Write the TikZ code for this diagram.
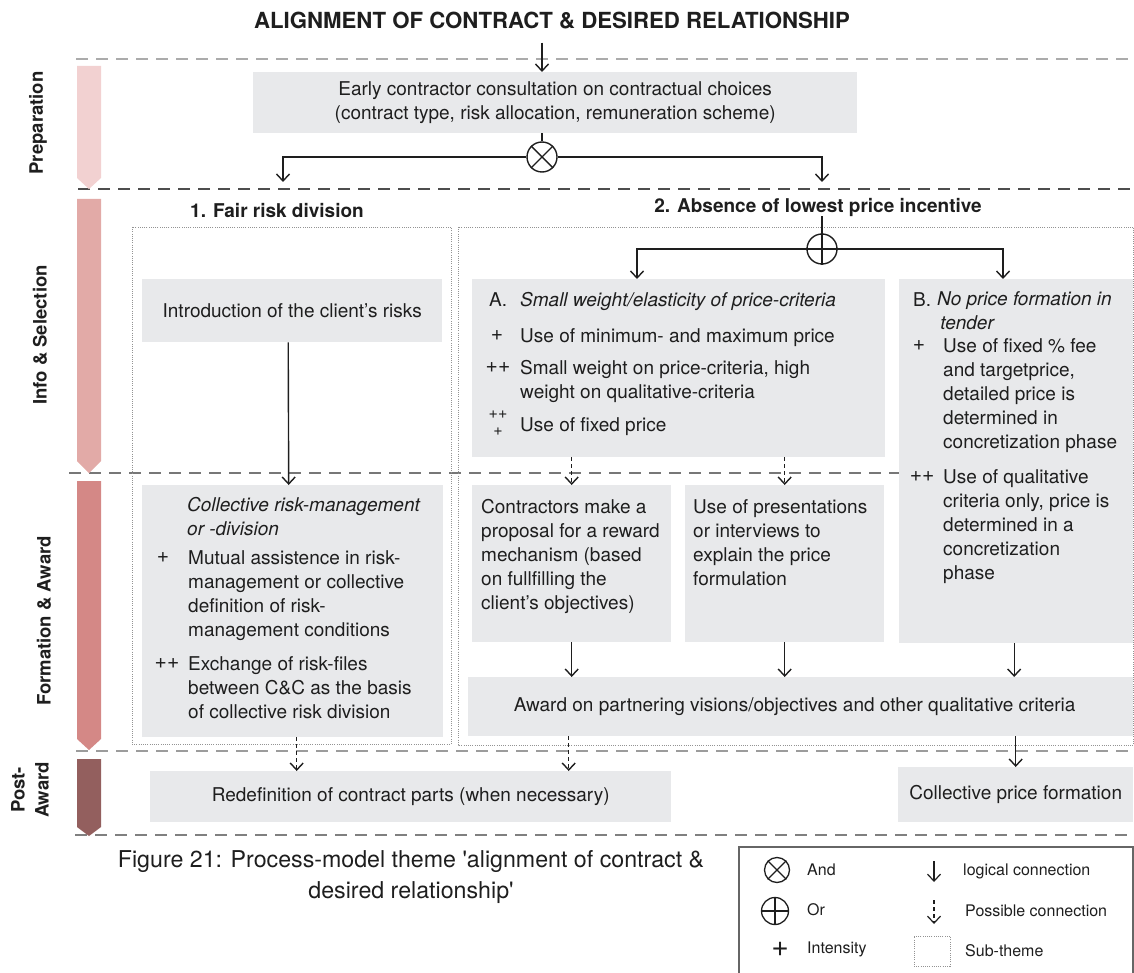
\documentclass[tikz,border=0pt]{standalone}
\usepackage{fontspec}
\setmainfont{TeX Gyre Heros}
\usetikzlibrary{arrows.meta}

\definecolor{boxfill}{HTML}{E8E9EB}
\definecolor{phaseA}{HTML}{F2D1D1}
\definecolor{phaseB}{HTML}{E2AAA7}
\definecolor{phaseC}{HTML}{D48886}
\definecolor{phaseD}{HTML}{935F5E}
\definecolor{ink}{HTML}{1E1E1E}
\definecolor{sepA}{HTML}{ABABAB}
\definecolor{sepB}{HTML}{4D4D4D}
\definecolor{sepC}{HTML}{777777}
\definecolor{sepD}{HTML}{9C9C9C}
\definecolor{sepE}{HTML}{808080}

\newcommand{\bodyfont}{\fontsize{19}{24}\selectfont}
\newcommand{\legfont}{\fontsize{16}{19}\selectfont}

\tikzset{
  card/.style={fill=boxfill, draw=none, inner sep=0pt, anchor=north west,
    align=center, font=\bodyfont, text=ink},
  txt/.style={inner sep=0pt, anchor=north west, align=left, font=\bodyfont, text=ink},
  intens/.style={inner sep=0pt, anchor=center, align=center,
    font=\fontsize{21}{14}\selectfont, text=ink},
  legtxt/.style={inner sep=0pt, anchor=west, font=\legfont, text=ink},
  head/.style={inner sep=0pt, font=\fontsize{19}{23}\selectfont\bfseries, text=ink},
  phaselabel/.style={inner sep=0pt, rotate=90, align=center,
    font=\fontsize{18.5}{24}\selectfont\bfseries, text=ink},
  logic/.style={line width=1.4pt, draw=ink, -{Straight Barb[length=7pt,width=13pt]}},
  maybe/.style={logic, dash pattern=on 4pt off 3pt},
  sepline/.style={line width=1.3pt, dash pattern=on 12pt off 8pt},
  subtheme/.style={draw=gray!85, line width=0.8pt, dash pattern=on 1pt off 1.2pt},
  gate/.style={circle, draw=ink, line width=1.4pt, minimum size=30pt, inner sep=0pt},
  gatecross/.style={line width=1.4pt, draw=ink},
}

% box given by its corners (x1,y1) and (x2,y2)
\newcommand{\card}[6]{%
  \node[card, minimum width={#4pt-#2pt}, minimum height={#5pt-#3pt}] (#1) at (#2,#3) {#6};}

\begin{document}
\begin{tikzpicture}[x=1pt,y=-1pt]
\useasboundingbox (0,0) rectangle (1134,973);

% phase separators
\draw[sepline, draw=sepA] (76,59) -- (1134,59);
\draw[sepline, draw=sepB] (78,189) -- (1134,189);
\draw[sepline, draw=sepC] (69,473) -- (1134,473);
\draw[sepline, draw=sepD] (76,751) -- (1134,751);
\draw[sepline, draw=sepE] (75,835) -- (1134,835);

% phase chevrons
\fill[phaseA] (77,66) -- (101,66) -- (101,178) -- (89,189) -- (77,178) -- cycle;
\fill[phaseB] (77,199) -- (101,199) -- (101,461) -- (89,473) -- (77,461) -- cycle;
\fill[phaseC] (77,481) -- (101,481) -- (101,739) -- (89,750) -- (77,739) -- cycle;
\fill[phaseD] (77,759) -- (101,759) -- (101,827) -- (89,836) -- (77,827) -- cycle;

\node[phaselabel] (lPrep) at (38,123) {Preparation};
\node[phaselabel] (lInfo) at (40,335) {Info \& Selection};
\node[phaselabel] (lForm) at (44,621) {Formation \& Award};
\node[phaselabel] (lPost) at (30,790) {Post-\\Award};

% title
\node[inner sep=0pt, font=\fontsize{22.2}{26}\selectfont\bfseries, text=ink]
  (title) at (552,21) {ALIGNMENT OF CONTRACT \& DESIRED RELATIONSHIP};

% sub-theme frames
\draw[subtheme] (132,227) rectangle (451,744);
\draw[subtheme] (458,227) rectangle (1133.5,745);

% boxes
\card{early}{253}{72}{857}{133}{Early contractor consultation on contractual choices\\(contract type, risk allocation, remuneration scheme)}
\card{intro}{142}{279}{442}{342}{Introduction of the client's risks}
\card{boxA}{472}{279}{885}{457}{}
\card{boxB}{899}{279}{1133}{643}{}
\card{coll}{142}{485}{443}{737}{}
\card{contr}{472}{485}{671}{642}{}
\card{pres}{685}{485}{884}{642}{}
\card{award}{468}{677}{1133}{736}{\hspace*{-12pt}Award on partnering visions/objectives and other qualitative criteria}
\card{redef}{150}{771}{671}{822}{Redefinition of contract parts (when necessary)}
\card{cpf}{898}{767}{1133}{822}{Collective price formation}

% headings of the sub-themes
\node[head] (h1) at (277,211) {1. Fair risk division};
\node[head] (h2) at (818,207) {2. Absence of lowest price incentive};

% box A
\node[txt] (aHead) at (489,289) {\strut A.};
\node[txt] (aHeadT) at (520,289) {\strut\textit{Small weight/elasticity of price-criteria}};
\node[intens] (aP1) at (497,336) {+};
\node[txt] (aT1) at (520,325) {\strut Use of minimum- and maximum price};
\node[intens] (aP2) at (498,368) {++};
\node[txt] (aT2) at (520,357) {\strut Small weight on price-criteria, high\\weight on qualitative-criteria};
\node[intens, font=\fontsize{16}{16}\selectfont] (aP3a) at (498,415) {++};
\node[intens, font=\fontsize{16}{16}\selectfont] (aP3b) at (498,432) {+};
\node[txt] (aT3) at (520,414) {\strut Use of fixed price};

% box B
\node[txt] (bHead) at (913,289) {\strut B.};
\node[txt] (bHeadT) at (937,288) {\strut\textit{No price formation in}\\\textit{\,tender}};
\node[intens] (bP1) at (919,346) {+};
\node[txt] (bT1) at (943,335) {\strut Use of fixed \% fee\\and targetprice,\\detailed price is\\determined in\\concretization phase};
\node[intens] (bP2) at (922,477) {++};
\node[txt] (bT2) at (943,466) {\strut Use of qualitative\\criteria only, price is\\determined in a\\concretization\\phase};

% collective risk box
\node[txt] (cHeadT) at (187,494) {\strut\textit{Collective risk-management}\\\textit{or -division}};
\node[intens] (cP1) at (163,558) {+};
\node[txt] (cT1) at (188,547) {\strut Mutual assistence in risk-\\management or collective\\definition of risk-\\management conditions};
\node[intens] (cP2) at (167,664) {++};
\node[txt] (cT2) at (188,653) {\strut Exchange of risk-files\\between C\&C as the basis\\of collective risk division};

% formation boxes
\node[txt] (crT) at (481,496) {\strut Contractors make a\\proposal for a reward\\mechanism (based\\on fullfilling the\\client's objectives)};
\node[txt] (prT) at (693,496) {\strut Use of presentations\\or interviews to\\explain the price\\formulation};

% gates
\node[gate] (andg) at (542,157) {};
\draw[gatecross] (andg.north west) -- (andg.south east) (andg.north east) -- (andg.south west);
\node[gate] (org) at (822,249) {};
\draw[gatecross] (org.north) -- (org.south) (org.west) -- (org.east);

\coordinate (to1) at (283,182);
\coordinate (to2) at (822,182);
\coordinate (toA) at (637,279);
\coordinate (toB) at (1003,279);

% connectors
\draw[logic, shorten <=13pt] (title.south -| andg) -- (andg |- early.north);
\draw[gatecross] (andg |- early.south) -- (andg.north);
\draw[logic] (andg.west) -| (to1);
\draw[logic] (andg.east) -| (to2);
\draw[gatecross] (org.north |- h2.south) -- (org.north);
\draw[logic] (org.west) -| (toA);
\draw[logic] (org.east) -| (toB);
\draw[logic] ([xshift=-4pt]intro.south) -- ([xshift=-4pt]coll.north);
\draw[maybe] (contr.north |- boxA.south) -- (contr.north);
\draw[maybe] (pres.north |- boxA.south) -- (pres.north);
\draw[logic] (contr.south) -- (contr.south |- award.north);
\draw[logic] (pres.south) -- (pres.south |- award.north);
\draw[logic] ([xshift=-2pt]boxB.south) -- ([xshift=-2pt]boxB.south |- award.north);
\draw[maybe] ([xshift=4pt]coll.south) -- ([xshift=4pt]coll.south |- redef.north);
\draw[maybe] ([xshift=-3pt]award.south -| contr) -- ([xshift=-3pt]redef.north -| contr);
\draw[logic] (cpf.north |- award.south) -- (cpf.north);

% caption
\node[inner sep=0pt, align=center, font=\fontsize{23.2}{31}\selectfont, text=ink]
  (caption) at (411,877) {Figure 21: Process-model theme \textquotesingle alignment of contract \&\\desired relationship\textquotesingle};

% legend
\draw[draw=gray!80!black, line width=1.2pt] (739,847) rectangle (1133,990);
\node[gate, minimum size=25pt, line width=1.3pt] (lgAnd) at (777,870) {};
\draw[gatecross, line width=1.3pt] (lgAnd.north west) -- (lgAnd.south east) (lgAnd.north east) -- (lgAnd.south west);
\node[legtxt] (lgAndT) at (807,870) {And};
\node[gate, minimum size=27pt, line width=1.3pt] (lgOr) at (775,911) {};
\draw[gatecross, line width=1.3pt] (lgOr.north) -- (lgOr.south) (lgOr.west) -- (lgOr.east);
\node[legtxt] (lgOrT) at (807,910) {Or};
\node[inner sep=0pt, font=\fontsize{30}{30}\selectfont, text=ink] (lgPlus) at (780,949) {+};
\node[legtxt] (lgPlusT) at (807,949) {Intensity};
\coordinate (lgL1) at (934,861);
\coordinate (lgL2) at (934,882);
\draw[logic, line width=1.2pt] (lgL1) -- (lgL2);
\node[legtxt] (lgL) at (963,871) {logical connection};
\coordinate (lgP1) at (934,900);
\coordinate (lgP2) at (934,924);
\draw[maybe, line width=1.2pt] (lgP1) -- (lgP2);
\node[legtxt] (lgP) at (965,911) {Possible connection};
\node[subtheme, minimum width=36pt, minimum height=30pt, inner sep=0pt] (lgSq) at (932,951) {};
\node[legtxt] (lgS) at (965,951) {Sub-theme};
\end{tikzpicture}
\end{document}
